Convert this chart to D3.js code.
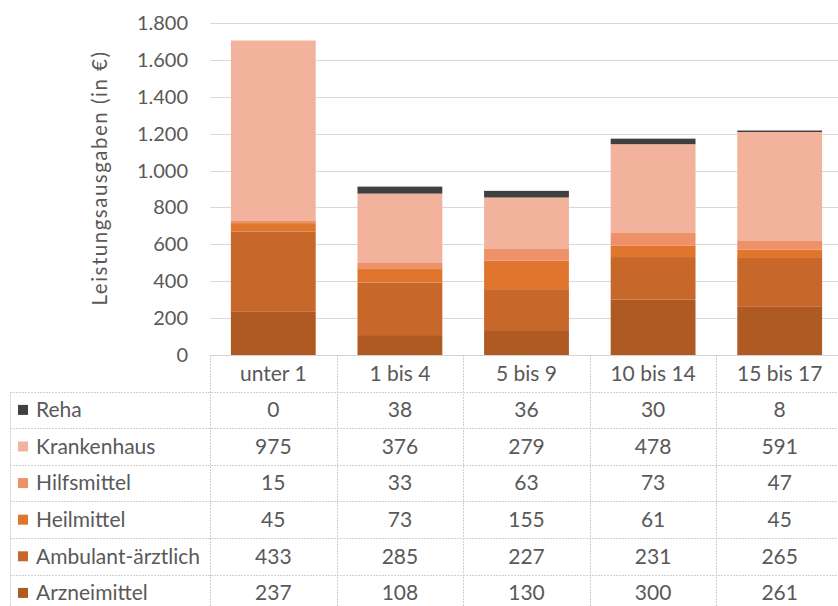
<!DOCTYPE html>
<html>
<head>
<meta charset="utf-8">
<script src="https://cdn.jsdelivr.net/npm/d3@7"></script>
<style>
  body { margin: 0; background: #fff; }
  text { font-family: Lato, 'Open Sans', sans-serif; fill: #595959; }
</style>
</head>
<body>
<svg id="chart" width="838" height="606"></svg>
<script>
// Data
var categories = ['unter 1', '1 bis 4', '5 bis 9', '10 bis 14', '15 bis 17'];
var seriesNames = ['Arzneimittel', 'Ambulant-ärztlich', 'Heilmittel', 'Hilfsmittel', 'Krankenhaus', 'Reha'];
var arzneimittel = [237, 108, 130, 300, 261];
var ambulant = [433, 285, 227, 231, 265];
var heilmittel = [45, 73, 155, 61, 45];
var hilfsmittel = [15, 33, 63, 73, 47];
var krankenhaus = [975, 376, 279, 478, 591];
var reha = [0, 38, 36, 30, 8];
var yTicks = [0, 200, 400, 600, 800, 1000, 1200, 1400, 1600, 1800];
var colors = ['#ae5a22', '#c8672a', '#e0762e', '#ee9068', '#f2b29b', '#404040'];

var seriesValues = [arzneimittel, ambulant, heilmittel, hilfsmittel, krankenhaus, reha];

// build rows for stack
var rows = categories.map(function (c, i) {
    var r = { cat: c };
    seriesNames.forEach(function (s, j) { r[s] = seriesValues[j][i]; });
    return r;
});

var svg = d3.select('#chart');
var plotLeft = 210, plotRight = 843, plotTop = 23, plotBottom = 355;
var rowH = 36.6;

var x = d3.scaleBand().domain(categories).range([plotLeft, plotRight]).paddingInner(0.33).paddingOuter(0.165);
var xCell = d3.scaleBand().domain(categories).range([plotLeft, plotRight]);
var y = d3.scaleLinear().domain([0, 1800]).range([plotBottom, plotTop]);

// gridlines
svg.append('g').selectAll('line').data(yTicks).enter().append('line')
    .attr('x1', plotLeft).attr('x2', 838)
    .attr('y1', function (d) { return Math.round(y(d)) + 0.5; })
    .attr('y2', function (d) { return Math.round(y(d)) + 0.5; })
    .attr('stroke', '#d9d9d9').attr('stroke-width', 1.2);

// y tick labels
svg.append('g').selectAll('text').data(yTicks).enter().append('text')
    .attr('x', 188).attr('y', function (d) { return y(d); }).attr('dy', '0.35em')
    .attr('text-anchor', 'end').style('font-size', '20px')
    .text(function (d) { return d3.format(',')(d).replace(/,/g, '.'); });

// axis title
svg.append('text')
    .attr('transform', 'translate(107,178)rotate(-90)')
    .attr('text-anchor', 'middle').style('font-size', '20.5px').style('letter-spacing', '1.5px')
    .text('Leistungsausgaben (in €)');

// stacked bars
var stack = d3.stack().keys(seriesNames);
var layers = stack(rows);
svg.append('g').selectAll('g').data(layers).enter().append('g')
    .attr('fill', function (d, i) { return colors[i]; })
    .selectAll('rect').data(function (d) { return d; }).enter().append('rect')
    .attr('x', function (d) { return x(d.data.cat); })
    .attr('width', x.bandwidth())
    .attr('y', function (d) { return y(d[1]); })
    .attr('height', function (d) { return y(d[0]) - y(d[1]); });

// data table
var table = svg.append('g');
var gridStyle = function (sel) {
    sel.attr('stroke', '#d0d0d0').attr('stroke-width', 1).attr('stroke-dasharray', '2,1');
};
// horizontal lines
var tableRowsTop = plotBottom;
var nRows = seriesNames.length + 1;
for (var r = 0; r <= nRows; r++) {
    var yy = Math.round(tableRowsTop + r * rowH) + 0.5;
    table.append('line').attr('x1', r === 0 ? plotLeft : 10).attr('x2', 838)
        .attr('y1', yy).attr('y2', yy).call(gridStyle);
}
// vertical lines
categories.forEach(function (c) {
    var xx = Math.round(xCell(c)) + 0.5;
    table.append('line').attr('x1', xx).attr('x2', xx)
        .attr('y1', tableRowsTop).attr('y2', 606).call(gridStyle);
});
table.append('line').attr('x1', 10.5).attr('x2', 10.5)
    .attr('y1', tableRowsTop + rowH).attr('y2', 606).call(gridStyle);

// header row
table.selectAll('text.cat').data(categories).enter().append('text')
    .attr('class', 'cat')
    .attr('x', function (d) { return xCell(d) + xCell.bandwidth() / 2; })
    .attr('y', tableRowsTop + rowH / 2).attr('dy', '0.35em')
    .attr('text-anchor', 'middle').style('font-size', '21px')
    .text(function (d) { return d; });

// series rows, top row = Reha
var displayOrder = seriesNames.slice().reverse();
displayOrder.forEach(function (s, ri) {
    var si = seriesNames.indexOf(s);
    var cy = tableRowsTop + (ri + 1) * rowH + rowH / 2;
    table.append('rect').attr('x', 18).attr('y', cy - 5).attr('width', 10).attr('height', 10)
        .attr('fill', colors[si]);
    table.append('text').attr('x', 36).attr('y', cy).attr('dy', '0.35em')
        .style('font-size', '21px').text(s);
    categories.forEach(function (c, ci) {
        table.append('text')
            .attr('x', xCell(c) + xCell.bandwidth() / 2)
            .attr('y', cy).attr('dy', '0.35em')
            .attr('text-anchor', 'middle').style('font-size', '21px')
            .text(seriesValues[si][ci]);
    });
});
</script>
</body>
</html>
